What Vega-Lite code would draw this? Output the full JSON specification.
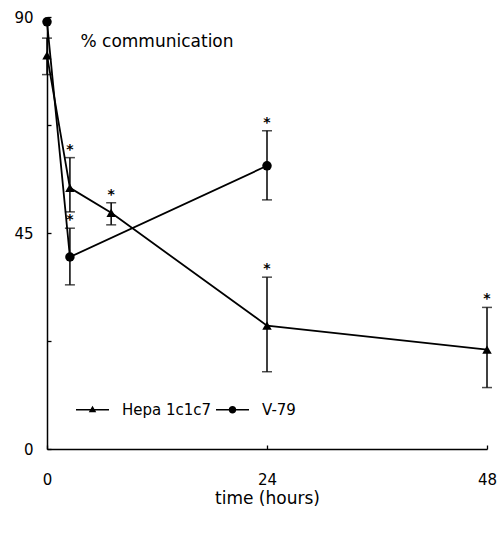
{
  "$schema": "https://vega.github.io/schema/vega-lite/v6.json",
  "width": 440,
  "height": 432,
  "autosize": "none",
  "padding": {"left": 47, "top": 17, "right": 13, "bottom": 89},
  "background": "white",
  "config": {
    "view": {"stroke": null},
    "font": "DejaVu Sans",
    "axis": {
      "domainColor": "black", "domainWidth": 1.5, "tickColor": "black", "tickWidth": 1.3,
      "labelColor": "black", "labelFont": "DejaVu Sans", "labelFontSize": 15,
      "titleColor": "black", "titleFont": "DejaVu Sans", "titleFontSize": 15, "titleFontWeight": "normal",
      "grid": false
    }
  },
  "data": {
    "values": [
      {"series": "Hepa 1c1c7", "t": 0, "v": 82, "lo": 78, "hi": 85.6, "star": false},
      {"series": "Hepa 1c1c7", "t": 2.5, "v": 54.4, "lo": 49.4, "hi": 60.7, "star": true},
      {"series": "Hepa 1c1c7", "t": 7, "v": 49.2, "lo": 46.7, "hi": 51.3, "star": true},
      {"series": "Hepa 1c1c7", "t": 24, "v": 25.7, "lo": 16.1, "hi": 35.8, "star": true},
      {"series": "Hepa 1c1c7", "t": 48, "v": 20.7, "lo": 12.8, "hi": 29.5, "star": true},
      {"series": "V-79", "t": 0, "v": 89, "lo": null, "hi": null, "star": false},
      {"series": "V-79", "t": 2.5, "v": 40.0, "lo": 34.2, "hi": 46.0, "star": true},
      {"series": "V-79", "t": 24, "v": 59.0, "lo": 51.9, "hi": 66.3, "star": true}
    ]
  },
  "encoding": {
    "x": {
      "field": "t", "type": "quantitative",
      "scale": {"domain": [0, 48], "nice": false, "zero": false},
      "axis": {"values": [0, 24, 48], "tickSize": -4, "labelPadding": 27, "title": "time (hours)", "titlePadding": 3, "titleFontSize": 17, "labelFlush": false}
    },
    "y": {
      "field": "v", "type": "quantitative",
      "scale": {"domain": [0, 90], "nice": false},
      "axis": {
        "values": [0, 22.5, 45, 67.5, 90], "tickSize": -4,
        "labelExpr": "datum.value % 45 === 0 ? datum.label : ''",
        "labelPadding": 18,
        "title": "% communication", "titleAngle": 0, "titleAlign": "left", "titleBaseline": "alphabetic",
        "titleX": 33, "titleY": 29, "titleFontSize": 17
      }
    }
  },
  "layer": [
    {
      "mark": {"type": "line", "color": "black", "strokeWidth": 1.8},
      "encoding": {"detail": {"field": "series"}}
    },
    {
      "transform": [{"filter": "datum.lo != null"}],
      "mark": {"type": "rule", "color": "black", "strokeWidth": 1.5},
      "encoding": {"y": {"field": "lo", "type": "quantitative"}, "y2": {"field": "hi"}}
    },
    {
      "transform": [{"filter": "datum.lo != null"}],
      "mark": {"type": "tick", "orient": "horizontal", "color": "black", "size": 10, "thickness": 1.5},
      "encoding": {"y": {"field": "lo", "type": "quantitative"}}
    },
    {
      "transform": [{"filter": "datum.lo != null"}],
      "mark": {"type": "tick", "orient": "horizontal", "color": "black", "size": 10, "thickness": 1.5},
      "encoding": {"y": {"field": "hi", "type": "quantitative"}}
    },
    {
      "transform": [{"filter": "datum.star"}],
      "mark": {"type": "text", "text": "*", "fontSize": 14, "fontWeight": "bold", "color": "black", "baseline": "middle", "dy": -8},
      "encoding": {"y": {"field": "hi", "type": "quantitative"}}
    },
    {
      "transform": [{"filter": "datum.series === 'Hepa 1c1c7'"}],
      "mark": {"type": "point", "shape": "triangle-up", "filled": true, "color": "black", "opacity": 1, "size": 90}
    },
    {
      "transform": [{"filter": "datum.series === 'V-79'"}],
      "mark": {"type": "point", "shape": "circle", "filled": true, "color": "black", "opacity": 1, "size": 90}
    },
    {
      "mark": {"type": "point", "filled": true, "color": "black", "size": 0},
      "encoding": {
        "shape": {
          "field": "series", "type": "nominal",
          "scale": {
            "domain": ["Hepa 1c1c7", "V-79"],
            "range": [
              "M-3.3,-0.14H3.3V0.14H-3.3Z M0,-0.8L0.75,0.5H-0.75Z",
              "M-3.3,-0.14H3.3V0.14H-3.3Z M0.75,0A0.75,0.75,0,1,1,-0.75,0A0.75,0.75,0,1,1,0.75,0Z"
            ]
          },
          "legend": {
            "title": null, "orient": "none", "direction": "horizontal", "columns": 2,
            "legendX": 38, "legendY": 385,
            "symbolSize": 100, "symbolFillColor": "black", "symbolStrokeColor": "black", "symbolStrokeWidth": 0.5, "symbolOpacity": 1,
            "labelFont": "DejaVu Sans", "labelFontSize": 15, "labelColor": "black",
            "labelOffset": 22, "columnPadding": 3
          }
        }
      }
    }
  ]
}
